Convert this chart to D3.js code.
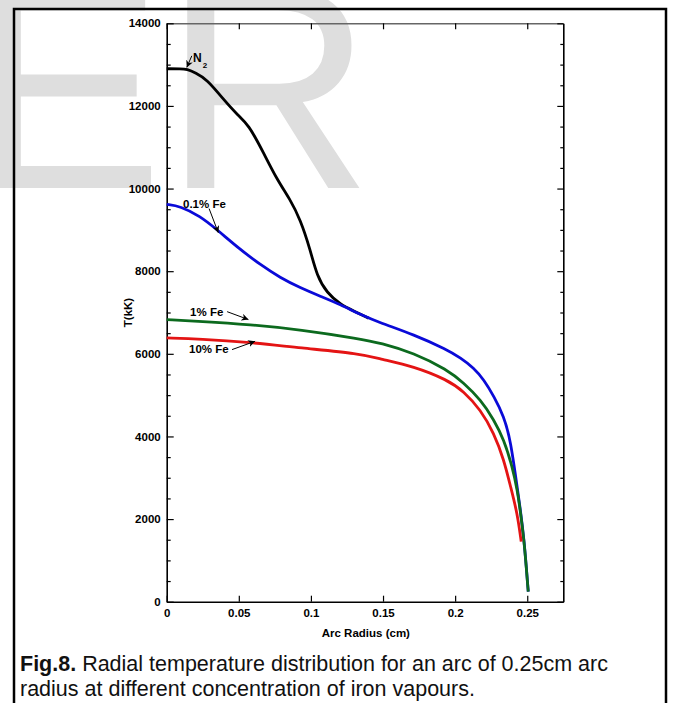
<!DOCTYPE html>
<html><head><meta charset="utf-8">
<script src="https://cdn.jsdelivr.net/npm/d3@7"></script>
<style>
html,body{margin:0;padding:0;background:#fff;}
svg{display:block;font-family:"Liberation Sans",Arial,Helvetica,sans-serif;}
</style></head>
<body>
<svg id="chart" width="674" height="703"></svg>
<script>
// ---- data ----
const xTicks = [0, 0.05, 0.1, 0.15, 0.2, 0.25];
const xTickLabels = ["0", "0.05", "0.1", "0.15", "0.2", "0.25"];
const yTicks = [0, 2000, 4000, 6000, 8000, 10000, 12000, 14000];
const yMinorTicks = d3.range(0, 14001, 500);

const rN2 = [0, 0.0100, 0.0140, 0.0200, 0.0278, 0.0393, 0.0486, 0.0567, 0.0671, 0.0764, 0.0856, 0.0926, 0.0995, 0.1042, 0.1111, 0.1204, 0.1300, 0.1400];
const tN2 = [12900, 12900, 12890, 12800, 12645, 12162, 11798, 11556, 10870, 10222, 9737, 9253, 8525, 7880, 7476, 7193, 7030, 6864];

const rFe01 = [0, 0.0093, 0.0231, 0.0347, 0.0509, 0.0648, 0.0787, 0.0926, 0.1065, 0.1204, 0.1343, 0.1481, 0.1713, 0.1944, 0.2037, 0.2130, 0.2199, 0.2269, 0.2338, 0.2384, 0.2431, 0.2454, 0.2477, 0.2493, 0.2507];
const tFe01 = [9616, 9576, 9333, 9011, 8526, 8162, 7840, 7598, 7394, 7193, 6950, 6749, 6465, 6102, 5901, 5658, 5375, 4970, 4485, 3920, 2750, 2180, 1520, 860, 242];

const rFe1 = [0, 0.0231, 0.0579, 0.0926, 0.1343, 0.1481, 0.1713, 0.1944, 0.2060, 0.2176, 0.2269, 0.2338, 0.2396, 0.2431, 0.2454, 0.2477, 0.2493, 0.2507];
const tFe1 = [6829, 6788, 6707, 6587, 6361, 6264, 6022, 5617, 5294, 4890, 4405, 3920, 3273, 2708, 2143, 1496, 848, 242];

const rFe10 = [0, 0.0231, 0.0579, 0.0926, 0.1343, 0.1481, 0.1713, 0.1944, 0.2060, 0.2176, 0.2269, 0.2338, 0.2384, 0.2431, 0.2458];
const tFe10 = [6386, 6361, 6279, 6141, 6005, 5876, 5697, 5375, 5091, 4647, 4082, 3435, 2788, 2143, 1455];

const seriesNames = ["N2", "0.1% Fe", "1% Fe", "10% Fe"];
const seriesColors = ["#000000", "#0a0ad8", "#0c6a1e", "#e41414"];

// annotation labels: [text, r, T] and arrows [r0, T0, r1, T1]
const annoLabels = ["0.1% Fe", "1% Fe", "10% Fe"];
const annoLabelR = [0.0113, 0.0162, 0.0155];
const annoLabelT = [9525, 6925, 6010];
const annoArrowR0 = [0.0174, 0.0294, 0.0419, 0.0453];
const annoArrowT0 = [13212, 9515, 7020, 6102];
const annoArrowR1 = [0.0139, 0.0358, 0.0567, 0.0613];
const annoArrowT1 = [12930, 8930, 6829, 6303];

const xTitle = "Arc Radius (cm)";
const yTitle = "T(kK)";
const captionBold = "Fig.8.";
const captionLine1 = " Radial temperature distribution for an arc of 0.25cm arc";
const captionLine2 = "radius at different concentration of iron vapours.";

// ---- drawing ----
const svg = d3.select("#chart");
const L = 166.7, R = 563.3, T = 23.3, B = 601.7;
const x = d3.scaleLinear().domain([0, 0.275]).range([L, R]);
const y = d3.scaleLinear().domain([0, 14000]).range([B, T]);

// watermark
svg.append("text").attr("x", -30).attr("y", 188)
  .attr("font-size", 290).attr("fill", "#dedede")
  .attr("font-family", "'Liberation Sans', Arial, sans-serif")
  .text("ER");

// outer frame
svg.append("rect").attr("x", 14).attr("y", 9).attr("width", 652).attr("height", 740)
  .attr("fill", "none").attr("stroke", "#000").attr("stroke-width", 2.5);

const fontTick = 11.5;

// axes
const gx = svg.append("g").attr("transform", `translate(0,${B})`)
  .call(d3.axisBottom(x).tickValues(xTicks).tickFormat((d, i) => xTickLabels[i])
    .tickSizeInner(-6).tickSizeOuter(0).tickPadding(7));
const gxt = svg.append("g").attr("transform", `translate(0,${T})`)
  .call(d3.axisTop(x).tickValues(xTicks).tickFormat("").tickSizeInner(-6).tickSizeOuter(0));
const gy = svg.append("g").attr("transform", `translate(${L},0)`)
  .call(d3.axisLeft(y).tickValues(yTicks).tickFormat(d3.format("d"))
    .tickSizeInner(-7).tickSizeOuter(0).tickPadding(6));
const gyMinor = svg.append("g").attr("transform", `translate(${L},0)`)
  .call(d3.axisLeft(y).tickValues(yMinorTicks.filter(v => v % 2000 !== 0)).tickFormat("")
    .tickSizeInner(-4).tickSizeOuter(0));
const gyr = svg.append("g").attr("transform", `translate(${R},0)`)
  .call(d3.axisRight(y).tickValues(yTicks).tickFormat("").tickSizeInner(-6).tickSizeOuter(0));
const gyrMinor = svg.append("g").attr("transform", `translate(${R},0)`)
  .call(d3.axisRight(y).tickValues(yMinorTicks.filter(v => v % 2000 !== 0)).tickFormat("")
    .tickSizeInner(-3).tickSizeOuter(0));
gyMinor.select(".domain").remove();
gyrMinor.select(".domain").remove();

[gx, gxt, gy, gyMinor, gyr, gyrMinor].forEach(g => {
  g.selectAll(".domain").attr("stroke", "#000").attr("stroke-width", 1.6);
  g.selectAll(".tick line").attr("stroke", "#000").attr("stroke-width", 1.2);
  g.selectAll("text").attr("font-size", fontTick).attr("font-weight", "bold")
    .attr("fill", "#000").attr("font-family", "'Liberation Sans', Arial, sans-serif");
});
gxt.select(".domain").attr("stroke", "#666");

// axis titles
svg.append("text").attr("x", (L + 565) / 2).attr("y", 637).attr("text-anchor", "middle")
  .attr("font-size", 11.5).attr("font-weight", "bold").text(xTitle);
svg.append("text").attr("transform", `translate(132,${(T + B) / 2}) rotate(-90)`)
  .attr("text-anchor", "middle").attr("font-size", 11.5).attr("font-weight", "bold").text(yTitle);

// curves
const seriesR = [rN2, rFe01, rFe1, rFe10];
const seriesT = [tN2, tFe01, tFe1, tFe10];
const line = d3.line().x(d => x(d[0])).y(d => y(d[1])).curve(d3.curveBasis);
seriesNames.forEach((name, i) => {
  const pts = seriesR[i].map((r, j) => [r, seriesT[i][j]]);
  svg.append("path").datum(pts).attr("d", line)
    .attr("fill", "none").attr("stroke", seriesColors[i]).attr("stroke-width", 2.8)
    .attr("stroke-linejoin", "round").attr("stroke-linecap", "butt");
});

// arrow marker
svg.append("defs").append("marker").attr("id", "ah")
  .attr("viewBox", "0 0 10 10").attr("refX", 10).attr("refY", 5)
  .attr("markerWidth", 7).attr("markerHeight", 7).attr("orient", "auto")
  .attr("markerUnits", "userSpaceOnUse")
  .append("path").attr("d", "M0,0 L10,5 L0,10 L3,5 Z").attr("fill", "#000");

annoArrowR0.forEach((r0, i) => {
  svg.append("line")
    .attr("x1", x(r0)).attr("y1", y(annoArrowT0[i]))
    .attr("x2", x(annoArrowR1[i])).attr("y2", y(annoArrowT1[i]))
    .attr("stroke", "#000").attr("stroke-width", 1).attr("marker-end", "url(#ah)");
});

// N2 label
const n2 = svg.append("text").attr("x", x(0.0183)).attr("y", y(13060))
  .attr("font-size", 12).attr("font-weight", "bold");
n2.append("tspan").text("N");
n2.append("tspan").attr("font-size", 8).attr("dy", 6).attr("dx", 1).text("2");

annoLabels.forEach((t, i) => {
  svg.append("text").attr("x", x(annoLabelR[i])).attr("y", y(annoLabelT[i]))
    .attr("font-size", 11.5).attr("font-weight", "bold").text(t);
});

// caption
const cap = svg.append("text").attr("x", 20).attr("y", 671).attr("font-size", 21.5)
  .attr("font-family", "'Liberation Sans', Arial, sans-serif").attr("fill", "#111");
cap.append("tspan").attr("font-weight", "bold").text(captionBold);
cap.append("tspan").text(captionLine1);
svg.append("text").attr("x", 20).attr("y", 696).attr("font-size", 21.5)
  .attr("font-family", "'Liberation Sans', Arial, sans-serif").attr("fill", "#111")
  .text(captionLine2);
</script>
</body></html>
